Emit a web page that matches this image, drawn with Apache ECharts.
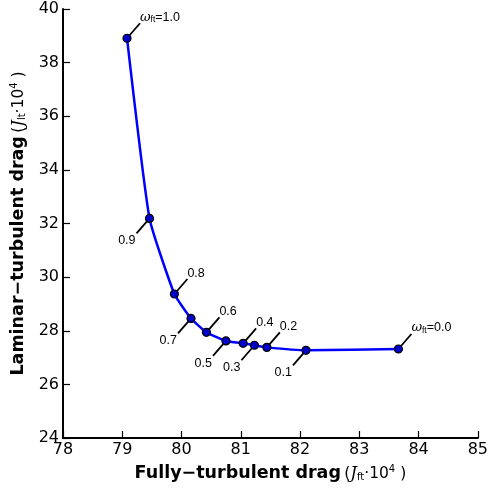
<!DOCTYPE html>
<html><head><meta charset="utf-8">
<script src="https://cdn.jsdelivr.net/npm/echarts@6/dist/echarts.min.js"></script>
<style>html,body{margin:0;padding:0;background:#fff}#c{width:491px;height:491px}</style>
</head><body><div id="c"></div>
<script>
const omega = ['1.0','0.9','0.8','0.7','0.6','0.5','0.4','0.3','0.2','0.1','0.0'];
const ftDrag = [79.08, 79.46, 79.88, 80.16, 80.42, 80.75, 81.04, 81.23, 81.44, 82.10, 83.66];
const ltDrag = [38.91, 32.19, 29.37, 28.46, 27.94, 27.62, 27.53, 27.46, 27.38, 27.27, 27.32];
const xTicks = [78, 79, 80, 81, 82, 83, 84, 85];
const yTicks = [24, 26, 28, 30, 32, 34, 36, 38, 40];

// label direction: 1 = up-right, -1 = down-left (style)
const labelDir = [1, -1, 1, -1, 1, -1, 1, -1, 1, -1, 1];

const points = ftDrag.map((x, i) => [x, ltDrag[i], i]);
const F = 'DejaVu Sans';
const LF = 'Liberation Sans';

const titleRich = {
  b: {fontFamily: F, fontWeight: 'bold', fontSize: 17.5, color: '#000'},
  m: {fontFamily: F, fontSize: 15.5, color: '#000'},
  j: {fontFamily: 'DejaVu Serif', fontStyle: 'italic', fontSize: 16.5, color: '#000'},
  s: {fontFamily: F, fontSize: 10, color: '#000', padding: [7, 0, 0, 0]},
  p: {fontFamily: F, fontSize: 10, color: '#000', padding: [0, 0, 9, 0]}
};

const chart = echarts.init(document.getElementById('c'), null, {renderer: 'canvas'});
const axisCommon = {
  axisLine: {show: true, lineStyle: {color: '#000', width: 2}},
  axisTick: {show: true, inside: true, length: 7, lineStyle: {color: '#000', width: 1.2}},
  splitLine: {show: false},
  axisLabel: {color: '#000', fontFamily: F, fontSize: 16, margin: 4}
};
chart.setOption({
  animation: false,
  backgroundColor: '#fff',
  grid: {left: 63, right: 10, top: 9, bottom: 53, containLabel: false},
  xAxis: Object.assign({}, axisCommon, {
    type: 'value', min: xTicks[0], max: xTicks[xTicks.length - 1], interval: 1,
    name: '{b|Fully\u2212turbulent drag} {m|(}{j|J}{s|ft}{m|\u00b710}{p|4}{m| )}',
    nameLocation: 'middle', nameGap: 26,
    nameTextStyle: {rich: titleRich}
  }),
  yAxis: Object.assign({}, axisCommon, {
    type: 'value', min: yTicks[0], max: yTicks[yTicks.length - 1], interval: 2,
    name: '{b|Laminar\u2212turbulent drag} {m|(}{j|J}{s|lt}{m|\u00b710}{p|4}{m| )}',
    nameLocation: 'middle', nameGap: 30, nameRotate: 90,
    nameTextStyle: {rich: titleRich}
  }),
  series: [
    {
      type: 'custom',
      z: 1,
      data: points,
      renderItem: function (params, api) {
        const i = api.value(2);
        const p = api.coord([api.value(0), api.value(1)]);
        const d = labelDir[i];
        const ex = p[0] + d * 13, ey = p[1] - d * 15;
        const isEnd = (i === 0 || i === omega.length - 1);
        const txt = isEnd ? '{w|\u03c9}{s|ft}{n|=' + omega[i] + '}' : omega[i];
        return {
          type: 'group',
          children: [
            {type: 'line', shape: {x1: p[0], y1: p[1], x2: ex, y2: ey},
             style: {stroke: '#000', lineWidth: 1.8}},
            {type: 'text', x: ex + (d > 0 ? 0 : -1), y: ey + 1,
             style: {
               text: txt, fill: '#000', fontFamily: LF, fontSize: 12.5,
               align: d > 0 ? 'left' : 'right',
               verticalAlign: d > 0 ? 'bottom' : 'top',
               rich: {
                 w: {fontFamily: 'DejaVu Serif', fontStyle: 'italic', fontSize: 13, color: '#000'},
                 s: {fontFamily: LF, fontSize: 8.5, color: '#000', padding: [5, 0, 0, 0]},
                 n: {fontFamily: LF, fontSize: 12.5, color: '#000'}
               }
             }}
          ]
        };
      }
    },
    {
      type: 'line',
      z: 3,
      data: points.map(p => [p[0], p[1]]),
      lineStyle: {color: '#0000ff', width: 2.5},
      symbol: 'circle', symbolSize: 8,
      itemStyle: {color: '#0000cc', borderColor: '#000', borderWidth: 1.2},
      smooth: 0.15
    }
  ]
});
</script></body></html>
